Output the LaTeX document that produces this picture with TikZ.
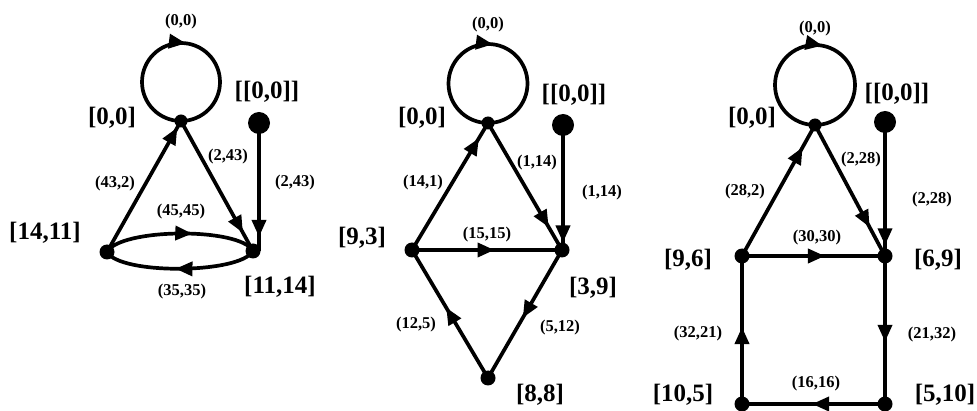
\documentclass[tikz,border=0pt]{standalone}
\usepackage{fontspec}
\setmainfont{Liberation Serif}
\usetikzlibrary{arrows.meta,decorations.markings}
\tikzset{
 edge/.style={line width=3.7pt},
 dotn/.style={circle,fill=black,inner sep=0pt,minimum size=15pt},
 topn/.style={circle,fill=black,inner sep=0pt,minimum size=13pt},
 srcn/.style={circle,fill=black,inner sep=0pt,minimum size=22pt},
 big/.style={font=\fontsize{25}{28}\selectfont\bfseries, inner sep=0pt},
 small/.style={font=\fontsize{16.5}{19}\selectfont\bfseries, inner sep=0pt},
 arr/.style={postaction={decorate},decoration={markings,mark=at position #1 with {\arrow{Triangle[length=17pt,width=14pt]}}}},
}
\begin{document}
\begin{tikzpicture}[x=1pt,y=-1pt]
\useasboundingbox (0,0) rectangle (977,411);
% ---------- Graph 1 ----------
\node[topn] (a1) at (181,121) {};
\node[srcn] (s1) at (259,123) {};
\node[dotn] (b1) at (107,252) {};
\node[dotn] (c1) at (253,251) {};
\node[big] (la1) at (112,118) {[0,0]};
\node[big] (ls1) at (267,92) {[[0,0]]};
\node[big] (lb1) at (45,233) {[14,11]};
\node[big] (lc1) at (280,287) {[11,14]};
\draw[edge,arr=0.52] (a1.center) arc[start angle=90,delta angle=360,radius=39];
\draw[edge,arr=0.95] (b1.center) -- (a1.center);
\draw[edge,arr=0.86] (a1.center) -- (c1.center);
\draw[edge,arr=0.89] (s1.center) -- (s1 |- c1.center);
\draw[edge,arr=0.58] (b1.center) .. controls +(13,-24) and +(-13,-24) .. (c1.center);
\draw[edge,arr=0.53] (c1.center) .. controls +(-13,23) and +(13,23) .. (b1.center);
\node[small] (e1a) at (181,22) {(0,0)};
\node[small] (e1b) at (115,184) {(43,2)};
\node[small] (e1c) at (228,157) {(2,43)};
\node[small] (e1d) at (295,183) {(2,43)};
\node[small] (e1e) at (181,212) {(45,45)};
\node[small] (e1f) at (182,292) {(35,35)};
% ---------- Graph 2 ----------
\node[topn] (a2) at (488,123) {};
\node[srcn] (s2) at (563,125) {};
\node[dotn] (b2) at (412,250) {};
\node[dotn] (c2) at (562,250) {};
\node[dotn] (d2) at (488,378) {};
\node[big] (la2) at (422,118) {[0,0]};
\node[big] (ls2) at (574,95) {[[0,0]]};
\node[big] (lb2) at (362,238) {[9,3]};
\node[big] (lc2) at (593,288) {[3,9]};
\node[big] (ld2) at (540,395) {[8,8]};
\draw[edge,arr=0.52] (a2.center) arc[start angle=90,delta angle=360,radius=39.5];
\draw[edge,arr=0.88] (b2.center) -- (a2.center);
\draw[edge,arr=0.82] (a2.center) -- (c2.center);
\draw[edge,arr=0.94] (s2.center) -- (s2 |- c2.center);
\draw[edge,arr=0.55] (b2.center) -- (c2.center);
\draw[edge,arr=0.53] (c2.center) -- (d2.center);
\draw[edge,arr=0.55] (d2.center) -- (b2.center);
\node[small] (e2a) at (488,25) {(0,0)};
\node[small] (e2b) at (423,183) {(14,1)};
\node[small] (e2c) at (537,163) {(1,14)};
\node[small] (e2d) at (602,193) {(1,14)};
\node[small] (e2e) at (487,235) {(15,15)};
\node[small] (e2f) at (416,325) {(12,5)};
\node[small] (e2g) at (560,328) {(5,12)};
% ---------- Graph 3 ----------
\node[topn] (a3) at (815,125) {};
\node[srcn] (s3) at (885,122) {};
\node[dotn] (b3) at (742,256) {};
\node[dotn] (c3) at (885,256) {};
\node[dotn] (d3) at (742,404) {};
\node[dotn] (e3) at (885,404) {};
\node[big] (la3) at (752,118) {[0,0]};
\node[big] (ls3) at (897,94) {[[0,0]]};
\node[big] (lb3) at (688,260) {[9,6]};
\node[big] (lc3) at (938,260) {[6,9]};
\node[big] (ld3) at (683,395) {[10,5]};
\node[big] (le3) at (945,395) {[5,10]};
\draw[edge,arr=0.53] (a3.center) arc[start angle=90,delta angle=360,radius=40];
\draw[edge,arr=0.83] (b3.center) -- (a3.center);
\draw[edge,arr=0.78] (a3.center) -- (c3.center);
\draw[edge,arr=0.92] (s3.center) -- (c3.center);
\draw[edge,arr=0.58] (b3.center) -- (c3.center);
\draw[edge,arr=0.58] (c3.center) -- (e3.center);
\draw[edge,arr=0.51] (e3.center) -- (d3.center);
\draw[edge,arr=0.52] (d3.center) -- (b3.center);
\node[small] (e3a) at (815,29) {(0,0)};
\node[small] (e3b) at (745,192) {(28,2)};
\node[small] (e3c) at (861,160) {(2,28)};
\node[small] (e3d) at (932,200) {(2,28)};
\node[small] (e3e) at (817,238) {(30,30)};
\node[small] (e3f) at (698,334) {(32,21)};
\node[small] (e3g) at (932,335) {(21,32)};
\node[small] (e3h) at (816,384) {(16,16)};
\end{tikzpicture}
\end{document}
